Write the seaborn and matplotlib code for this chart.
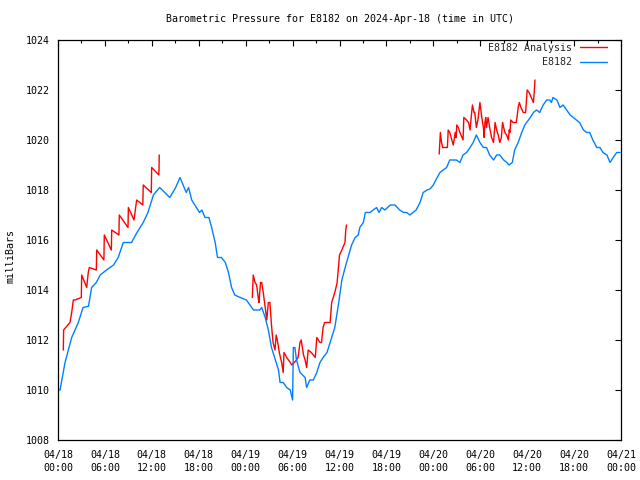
import matplotlib
matplotlib.use('Agg')
import matplotlib.pyplot as plt
from matplotlib.ticker import MultipleLocator
import pandas as pd
import seaborn as sns

# hours since 2024-04-18 00:00 UTC, pressure in mb
obs_hours = [0.0, 0.26, 0.9, 1.75, 2.6, 3.2, 3.9, 4.3, 4.9, 5.4, 6.2, 7.1, 7.7, 8.35, 9.4,
             10.1, 10.9, 11.5, 12.2, 13.0, 14.3, 15.0, 15.6, 16.4, 16.7, 17.1, 17.7, 18.1,
             18.4, 18.8, 19.3, 19.65, 20.1, 20.4, 20.9, 21.4, 21.8, 22.2, 22.6, 23.3, 24.1,
             25.0, 25.8, 26.05, 26.5, 26.9, 27.3, 27.7, 28.2, 28.4, 28.8, 29.25, 29.7, 30.0,
             30.1, 30.3, 30.5, 30.95, 31.6, 31.8, 32.2, 32.65, 33.1, 33.5, 33.9, 34.4, 34.8,
             35.4, 35.9, 36.3, 36.9, 37.55, 38.0, 38.4, 38.6, 39.05, 39.3, 39.9, 40.3, 40.75,
             41.05, 41.4, 41.8, 42.5, 43.1, 43.7, 44.2, 44.6, 45.0, 45.4, 45.8, 46.3, 46.7,
             47.2, 47.6, 48.0, 48.4, 48.85, 49.25, 49.7, 50.1, 50.5, 50.95, 51.4, 51.8, 52.25,
             52.7, 53.1, 53.5, 53.96, 54.4, 54.8, 55.2, 55.7, 56.1, 56.5, 57.0, 57.4, 57.7,
             58.1, 58.4, 58.85, 59.3, 59.7, 60.4, 60.8, 61.2, 61.6, 62.05, 62.5, 62.9, 63.1,
             63.3, 63.8, 64.2, 64.6, 65.05, 65.5, 65.9, 66.3, 66.7, 67.2, 67.6, 68.0, 68.4,
             68.9, 69.3, 69.7, 70.2, 70.6, 71.0, 71.45, 71.9]
obs_mb = [1010.0, 1010.0, 1011.1, 1012.1, 1012.7, 1013.3, 1013.35, 1014.1, 1014.3, 1014.6,
          1014.8, 1015.0, 1015.3, 1015.9, 1015.9, 1016.3, 1016.7, 1017.1, 1017.8, 1018.1,
          1017.7, 1018.07, 1018.5, 1017.9, 1018.1, 1017.6, 1017.3, 1017.1, 1017.2, 1016.9,
          1016.9, 1016.5, 1015.9, 1015.3, 1015.3, 1015.1, 1014.7, 1014.1, 1013.8, 1013.7,
          1013.6, 1013.2, 1013.2, 1013.3, 1012.9, 1012.4, 1011.7, 1011.3, 1010.8, 1010.3,
          1010.3, 1010.1, 1010.0, 1009.6, 1011.7, 1011.7, 1011.2, 1010.7, 1010.5, 1010.1,
          1010.4, 1010.4, 1010.7, 1011.1, 1011.3, 1011.5, 1011.9, 1012.5, 1013.5, 1014.4,
          1015.1, 1015.8, 1016.1, 1016.2, 1016.5, 1016.7, 1017.1, 1017.1, 1017.2, 1017.3,
          1017.1, 1017.3, 1017.2, 1017.4, 1017.4, 1017.2, 1017.1, 1017.1, 1017.0, 1017.1,
          1017.2, 1017.5, 1017.9, 1018.0, 1018.05, 1018.2, 1018.45, 1018.7, 1018.8, 1018.9,
          1019.2, 1019.2, 1019.2, 1019.1, 1019.4, 1019.5, 1019.7, 1019.9, 1020.2, 1019.9,
          1019.7, 1019.7, 1019.4, 1019.2, 1019.4, 1019.4, 1019.2, 1019.1, 1019.0, 1019.1,
          1019.6, 1019.9, 1020.3, 1020.6, 1020.9, 1021.1, 1021.2, 1021.1, 1021.4, 1021.6,
          1021.6, 1021.5, 1021.7, 1021.6, 1021.3, 1021.4, 1021.2, 1021.0, 1020.9, 1020.8,
          1020.7, 1020.4, 1020.3, 1020.3, 1020.0, 1019.7, 1019.7, 1019.5, 1019.4, 1019.1,
          1019.3, 1019.5, 1019.5]

# analysis runs (three separate pieces)
ana1_hours = [0.68, 0.72, 1.53, 1.75, 1.96, 2.17, 2.98, 3.03, 3.67, 3.87, 4.0, 4.9, 4.95,
              5.87, 5.92, 6.82, 6.87, 7.79, 7.84, 8.95, 9.0, 9.72, 10.06, 10.85, 10.9,
              11.93, 11.98, 12.9, 12.95]
ana1_mb = [1011.6, 1012.4, 1012.7, 1013.1, 1013.6, 1013.6, 1013.7, 1014.6, 1014.1, 1014.7,
           1014.9, 1014.8, 1015.6, 1015.2, 1016.2, 1015.6, 1016.4, 1016.2, 1017.0, 1016.5,
           1017.3, 1016.8, 1017.6, 1017.4, 1018.2, 1017.9, 1018.9, 1018.6, 1019.4]

ana2_hours = [24.85, 24.97, 25.2, 25.4, 25.6, 25.7, 25.9, 26.05, 26.25, 26.5, 26.7, 26.9,
              27.1, 27.3, 27.5, 27.75, 27.9, 28.05, 28.3, 28.6, 28.8, 28.9, 29.25, 29.7,
              29.9, 30.2, 30.5, 30.7, 30.95, 31.1, 31.4, 31.6, 31.8, 32.0, 32.4, 32.9, 33.1,
              33.5, 33.7, 33.9, 34.1, 34.8, 35.0, 35.4, 35.7, 36.0, 36.3, 36.7, 36.8, 36.9]
ana2_mb = [1013.7, 1014.6, 1014.3, 1014.2, 1013.7, 1013.5, 1014.3, 1014.3, 1013.9, 1013.3,
           1012.8, 1013.5, 1013.5, 1012.6, 1011.9, 1011.6, 1012.2, 1012.0, 1011.5, 1011.1,
           1010.7, 1011.5, 1011.3, 1011.1, 1011.0, 1011.1, 1011.2, 1011.3, 1011.9, 1012.0,
           1011.4, 1011.2, 1010.9, 1011.6, 1011.5, 1011.3, 1012.1, 1011.9, 1011.9, 1012.5,
           1012.7, 1012.7, 1013.5, 1013.9, 1014.3, 1015.4, 1015.6, 1015.9, 1016.4, 1016.6]

ana3_hours = [48.75, 48.9, 49.05, 49.2, 49.7, 49.8, 49.9, 50.1, 50.55, 50.8, 50.9, 51.0,
              51.2, 51.4, 51.8, 51.9, 52.25, 52.5, 52.7, 52.9, 53.0, 53.2, 53.3, 53.5, 53.7,
              53.96, 54.2, 54.4, 54.5, 54.6, 54.7, 54.8, 55.0, 55.2, 55.45, 55.7, 55.9, 56.1,
              56.3, 56.5, 56.7, 56.85, 57.15, 57.37, 57.6, 57.7, 57.8, 57.9, 58.2, 58.6, 58.7,
              58.85, 59.0, 59.2, 59.5, 59.8, 60.0, 60.25, 60.8, 60.9, 61.0]
ana3_mb = [1019.44, 1020.3, 1019.9, 1019.7, 1019.7, 1019.7, 1020.4, 1020.3, 1019.8, 1020.3,
           1020.1, 1020.6, 1020.5, 1020.3, 1020.0, 1020.9, 1020.8, 1020.7, 1020.4, 1021.1,
           1021.4, 1021.1, 1021.1, 1020.5, 1020.8, 1021.5, 1020.9, 1020.5, 1020.1, 1020.7,
           1020.9, 1020.5, 1020.9, 1020.5, 1020.1, 1019.9, 1020.7, 1020.4, 1020.2, 1019.9,
           1020.1, 1020.7, 1020.3, 1020.2, 1020.0, 1020.4, 1020.3, 1020.8, 1020.7, 1020.7,
           1020.9, 1021.3, 1021.5, 1021.3, 1021.1, 1021.1, 1022.0, 1021.9, 1021.5, 1021.9,
           1022.4]

xtick_hours = [0, 6, 12, 18, 24, 30, 36, 42, 48, 54, 60, 66, 72]
xtick_labels = ['04/18\n00:00', '04/18\n06:00', '04/18\n12:00', '04/18\n18:00',
                '04/19\n00:00', '04/19\n06:00', '04/19\n12:00', '04/19\n18:00',
                '04/20\n00:00', '04/20\n06:00', '04/20\n12:00', '04/20\n18:00',
                '04/21\n00:00']
ytick_values = [1008, 1010, 1012, 1014, 1016, 1018, 1020, 1022, 1024]

sns.set_style('white')
plt.rcParams['font.family'] = ['DejaVu Sans Mono']
plt.rcParams['font.size'] = 7.2

fig, ax = plt.subplots(figsize=(6.4, 4.8), dpi=100)
fig.subplots_adjust(left=58/640, right=621/640, bottom=40/480, top=440/480)

red = '#ff0000'
blue = '#0080ff'
ana_pieces = [(ana1_hours, ana1_mb), (ana2_hours, ana2_mb), (ana3_hours, ana3_mb)]
for i, (h, p) in enumerate(ana_pieces):
    df = pd.DataFrame({'hours': h, 'mb': p})
    sns.lineplot(data=df, x='hours', y='mb', ax=ax, color=red, lw=1.0,
                 estimator=None, sort=False,
                 label='E8182 Analysis' if i == 0 else None)

df_obs = pd.DataFrame({'hours': obs_hours, 'mb': obs_mb})
sns.lineplot(data=df_obs, x='hours', y='mb', ax=ax, color=blue, lw=1.0,
             estimator=None, sort=False, label='E8182')

ax.set_xlim(0, 72)
ax.set_ylim(1008, 1024)
ax.set_xticks(xtick_hours)
ax.set_xticklabels(xtick_labels)
ax.xaxis.set_minor_locator(MultipleLocator(3))
ax.set_yticks(ytick_values)
ax.set_yticklabels([str(v) for v in ytick_values])
for lab in ax.get_xticklabels():
    lab.set_linespacing(1.45)

ax.tick_params(which='both', direction='in', top=True, right=True,
               color='black', width=0.8, labelcolor='black', labelsize=7.2)
ax.tick_params(which='major', length=4)
ax.tick_params(which='minor', length=2)
ax.tick_params(axis='x', pad=7)
ax.tick_params(axis='y', pad=6)
for s in ax.spines.values():
    s.set_color('black')
    s.set_linewidth(0.9)

ax.set_xlabel('')
ax.set_ylabel('milliBars', fontsize=7.2, color='black')
ax.yaxis.set_label_coords(-0.075, 0.46)
ax.set_title('Barometric Pressure for E8182 on 2024-Apr-18 (time in UTC)',
             fontsize=7.2, color='black', pad=13)

handles, labels = ax.get_legend_handles_labels()
ax.legend(handles, labels, loc='upper right', bbox_to_anchor=(0.9825, 1.003),
          frameon=False, markerfirst=False, handlelength=2.7, handletextpad=0.8,
          labelspacing=0.45, borderaxespad=0, fontsize=7.2)

fig.savefig('out.png', dpi=100)
